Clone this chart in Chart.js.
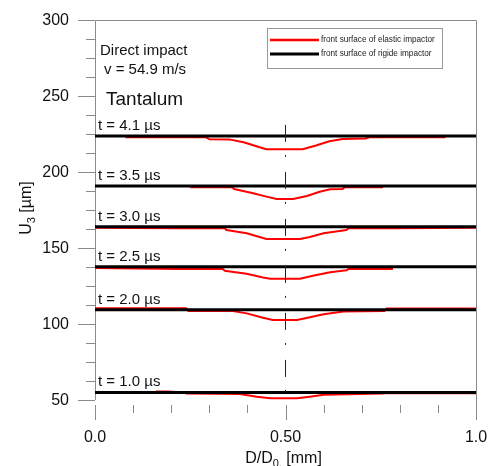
<!DOCTYPE html>
<html>
<head>
<meta charset="utf-8">
<script src="https://cdn.jsdelivr.net/npm/chart.js@4/dist/chart.umd.min.js"></script>
<style>
  html, body { margin: 0; padding: 0; background: #fff; }
  #wrap { width: 490px; height: 466px; }
</style>
</head>
<body>
<div id="wrap"><canvas id="c" width="490" height="466"></canvas></div>
<script>
// Time instants and the level of the rigid impactor's front surface at each one
const timeLabels = ['4.1', '3.5', '3.0', '2.5', '2.0', '1.0'];
const rigidLevels = [223.7, 190.8, 164.0, 137.6, 109.4, 55.0];
const rigidSpan = [0, 1];

// Front surface of the elastic impactor (D/D0 and U3) at each instant
const elasticD41 = [0.08, 0.29, 0.30, 0.355, 0.39, 0.43, 0.45, 0.50, 0.545, 0.58, 0.615, 0.65, 0.71, 0.72, 0.92];
const elasticU41 = [222.9, 222.9, 221.6, 221.3, 219.6, 216.4, 215.0, 214.9, 215.0, 217.4, 220.2, 221.7, 222.0, 222.9, 222.9];

const elasticD35 = [0.25, 0.36, 0.365, 0.415, 0.45, 0.477, 0.52, 0.556, 0.59, 0.617, 0.65, 0.655, 0.756];
const elasticU35 = [190.0, 190.0, 188.8, 186.0, 183.8, 182.2, 182.2, 184.2, 187.0, 188.6, 188.8, 190.0, 190.0];

const elasticD30 = [0.0, 0.21, 0.34, 0.345, 0.398, 0.45, 0.538, 0.564, 0.60, 0.66, 0.665, 0.787, 1.0];
const elasticU30 = [163.3, 163.0, 163.0, 161.8, 159.7, 155.9, 155.9, 157.2, 159.7, 161.8, 163.0, 163.0, 163.3];

const elasticD25 = [0.0, 0.218, 0.336, 0.34, 0.398, 0.441, 0.46, 0.538, 0.572, 0.617, 0.66, 0.665, 0.782];
const elasticU25 = [136.8, 136.2, 136.2, 135.1, 133.0, 130.6, 129.8, 129.8, 131.8, 134.0, 135.3, 136.2, 136.2];

const elasticD20 = [0.0, 0.24, 0.245, 0.362, 0.398, 0.441, 0.467, 0.53, 0.564, 0.60, 0.652, 0.76, 0.765, 1.0];
const elasticU20 = [110.3, 110.3, 108.6, 108.6, 107.0, 104.1, 102.6, 102.6, 104.5, 106.4, 108.2, 108.6, 110.2, 110.2];

const elasticD10 = [0.16, 0.19, 0.235, 0.24, 0.38, 0.425, 0.46, 0.53, 0.564, 0.60, 0.755, 0.76, 1.0];
const elasticU10 = [55.6, 55.6, 55.0, 54.2, 53.9, 52.2, 51.1, 51.1, 52.2, 53.5, 54.2, 54.5, 54.5];

// Symmetry axis of the impactor
const centerD = [0.5, 0.5];
const centerU = [231, 53];

// Axis ticks
const yMajorTicks = [50, 100, 150, 200, 250, 300];
const yMinorStep = 12.5;
const xMajorTicks = [0, 0.5, 1];
const xTickLabels = ['0.0', '0.50', '1.0'];
const xMinorStep = 0.1;

const legendLabels = ['front surface of elastic impactor', 'front surface of rigide impactor'];

const toPoints = (xs, ys) => xs.map((x, i) => ({ x: x, y: ys[i] }));

const elasticSeries = [
  [elasticD41, elasticU41], [elasticD35, elasticU35], [elasticD30, elasticU30],
  [elasticD25, elasticU25], [elasticD20, elasticU20], [elasticD10, elasticU10]
];

const datasets = [];
rigidLevels.forEach((lvl, i) => {
  datasets.push({
    label: legendLabels[1] + ' ' + timeLabels[i],
    data: toPoints(rigidSpan, rigidSpan.map(() => lvl)),
    borderColor: '#000', borderWidth: 3, order: 1
  });
});
elasticSeries.forEach((s, i) => {
  datasets.push({
    label: legendLabels[0] + ' ' + timeLabels[i],
    data: toPoints(s[0], s[1]),
    borderColor: '#ff0000', borderWidth: 2, order: 2
  });
});
datasets.push({
  label: 'axis',
  data: toPoints(centerD, centerU),
  borderColor: '#222', borderWidth: 1, borderDash: [17, 13, 2, 15], order: 0
});

const AXIS = '#8a8a8a';
const FONT = '"Liberation Sans", Arial, sans-serif';

function drawSubText(ctx, parts, x, y, align) {
  // parts: [text, size, dy]
  let total = 0;
  parts.forEach(p => { ctx.font = p[1] + 'px ' + FONT; total += ctx.measureText(p[0]).width; });
  let cx = align === 'center' ? x - total / 2 : x;
  ctx.textAlign = 'left';
  parts.forEach(p => {
    ctx.font = p[1] + 'px ' + FONT;
    ctx.fillText(p[0], cx, y + p[2]);
    cx += ctx.measureText(p[0]).width;
  });
}

const framePlugin = {
  id: 'frame',
  beforeDatasetsDraw(chart) {
    const { ctx, chartArea: a, scales } = chart;
    const xs = scales.x, ys = scales.y;
    ctx.save();
    ctx.strokeStyle = AXIS;
    ctx.lineWidth = 1;
    ctx.beginPath();
    // left axis, top and right frame
    ctx.moveTo(a.left + 0.5, a.bottom);
    ctx.lineTo(a.left + 0.5, a.top + 0.5);
    ctx.lineTo(a.right + 0.5, a.top + 0.5);
    ctx.lineTo(a.right + 0.5, a.bottom + 20);
    // y ticks
    for (let v = ys.min; v <= ys.max + 1e-6; v += yMinorStep) {
      const py = Math.round(ys.getPixelForValue(v)) + 0.5;
      const major = yMajorTicks.includes(v);
      ctx.moveTo(a.left - (major ? 17 : 9), py);
      ctx.lineTo(a.left, py);
    }
    // x ticks, hanging below a small gap
    for (let k = 0; k <= 10; k++) {
      const v = k * xMinorStep;
      const px = Math.round(xs.getPixelForValue(v)) + 0.5;
      const major = xMajorTicks.some(m => Math.abs(m - v) < 1e-6);
      ctx.moveTo(px, a.bottom + 5);
      ctx.lineTo(px, a.bottom + (major ? 20 : 13));
    }
    ctx.stroke();

    // tick labels
    ctx.fillStyle = '#111';
    ctx.font = '16px ' + FONT;
    ctx.textAlign = 'right';
    ctx.textBaseline = 'middle';
    yMajorTicks.forEach(v => ctx.fillText(String(v), a.left - 26, ys.getPixelForValue(v) + 1));
    ctx.textAlign = 'center';
    xMajorTicks.forEach((v, i) => ctx.fillText(xTickLabels[i], xs.getPixelForValue(v), a.bottom + 38));

    // axis titles
    ctx.textBaseline = 'alphabetic';
    drawSubText(ctx, [['D/D', 16, 0], ['0,', 11, 4], [' [mm]', 16, 0]], xs.getPixelForValue(0.5) - 2, a.bottom + 63, 'center');
    ctx.save();
    ctx.translate(31, 208);
    ctx.rotate(-Math.PI / 2);
    drawSubText(ctx, [['U', 16, 0], ['3', 11, 4], [' [\u00b5m]', 16, 0]], 0, 0, 'center');
    ctx.restore();
    ctx.restore();
  },
  afterDatasetsDraw(chart) {
    const { ctx, chartArea: a, scales } = chart;
    const ys = scales.y;
    ctx.save();
    ctx.fillStyle = '#111';
    ctx.textBaseline = 'alphabetic';
    ctx.textAlign = 'left';

    // time labels above each rigid surface line
    ctx.font = '15px ' + FONT;
    rigidLevels.forEach((lvl, i) => {
      ctx.fillText('t = ' + timeLabels[i] + ' \u00b5s', a.left + 3, ys.getPixelForValue(lvl) - 6);
    });

    // case description
    ctx.font = '15px ' + FONT;
    ctx.fillText('Direct impact', a.left + 5, 55);
    ctx.fillText('v = 54.9 m/s', a.left + 9, 74);
    ctx.font = '19px ' + FONT;
    ctx.fillText('Tantalum', a.left + 11, 105);

    // legend
    const lx = 267, ly = 28, lw = 175, lh = 40;
    ctx.fillStyle = '#fff';
    ctx.fillRect(lx, ly, lw, lh);
    ctx.strokeStyle = '#999';
    ctx.lineWidth = 1;
    ctx.strokeRect(lx + 0.5, ly + 0.5, lw, lh);
    const rows = [[legendLabels[0], '#ff0000', 2.5, 40], [legendLabels[1], '#000', 3, 54]];
    rows.forEach(r => {
      ctx.strokeStyle = r[1];
      ctx.lineWidth = r[2];
      ctx.beginPath();
      ctx.moveTo(270, r[3]);
      ctx.lineTo(319, r[3]);
      ctx.stroke();
      ctx.fillStyle = '#222';
      ctx.font = '8.2px ' + FONT;
      ctx.textBaseline = 'middle';
      ctx.fillText(r[0], 321, r[3]);
    });
    ctx.restore();
  }
};

new Chart(document.getElementById('c'), {
  type: 'line',
  data: { datasets: datasets },
  options: {
    responsive: false,
    animation: false,
    devicePixelRatio: 1,
    layout: { padding: { left: 95, right: 14, top: 20, bottom: 66 } },
    elements: { point: { radius: 0 }, line: { tension: 0, fill: false, borderJoinStyle: 'round' } },
    scales: {
      x: { type: 'linear', min: 0, max: 1, display: false },
      y: { type: 'linear', min: 50, max: 300, display: false }
    },
    plugins: { legend: { display: false }, tooltip: { enabled: false } }
  },
  plugins: [framePlugin]
});
</script>
</body>
</html>
